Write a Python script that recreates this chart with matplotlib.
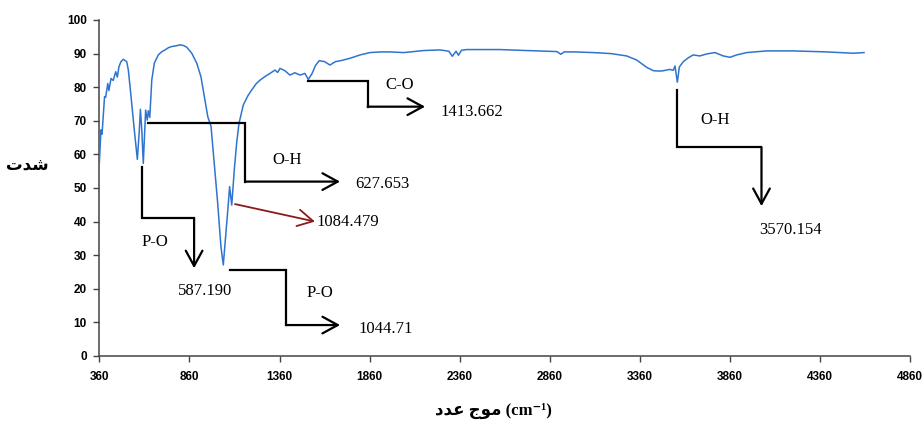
"""
FTIR spectrum with band assignments (P-O, O-H, C-O) and leader arrows.
Writes out.png
"""
import matplotlib
matplotlib.use("Agg")
import matplotlib.pyplot as plt

# spectrum (wavenumber in cm^-1, intensity in %)
wavenumber = [
    360, 369, 375, 389, 395, 407, 413, 425, 437, 451,
    460, 469, 480, 493, 512, 521, 536, 554, 571, 582,
    588, 596, 604, 617, 626, 632, 640, 651, 665, 687,
    705, 725, 745, 762, 785, 808, 828, 845, 873, 901,
    924, 943, 962, 980, 998, 1017, 1035, 1048, 1061, 1076,
    1083, 1095, 1109, 1122, 1135, 1159, 1185, 1206, 1230, 1252,
    1280, 1307, 1335, 1350, 1363, 1390, 1418, 1445, 1474, 1501,
    1520, 1540, 1560, 1581, 1610, 1640, 1670, 1700, 1751, 1807,
    1862, 1920, 1973, 2050, 2158, 2251, 2300, 2319, 2340, 2353,
    2370, 2400, 2446, 2584, 2682, 2800, 2900, 2921, 2940, 3000,
    3102, 3200, 3287, 3342, 3398, 3435, 3470, 3490, 3527, 3545,
    3555, 3568, 3579, 3601, 3630, 3656, 3693, 3731, 3777, 3823,
    3860, 3897, 3953, 4064, 4212, 4397, 4545, 4604,
]
intensity = [
    57.3, 67.3, 66.0, 77.2, 77.0, 81.1, 79.0, 82.6, 82.0, 84.6,
    83.0, 86.1, 87.6, 88.3, 87.6, 85.1, 77.2, 67.3, 58.5, 67.3,
    73.4, 67.0, 57.3, 73.2, 70.2, 73.0, 71.0, 82.1, 87.1, 89.6,
    90.5, 91.1, 91.8, 92.1, 92.3, 92.6, 92.4, 91.9, 90.1, 87.1,
    83.1, 77.2, 71.2, 68.3, 57.3, 45.4, 32.5, 27.1, 35.5, 45.4,
    50.4, 44.9, 55.4, 63.3, 69.2, 74.7, 77.5, 79.2, 81.0, 82.1,
    83.2, 84.1, 85.1, 84.4, 85.6, 84.9, 83.6, 84.3, 83.6, 84.1,
    82.3, 84.0, 86.5, 87.9, 87.6, 86.6, 87.6, 87.9, 88.6, 89.6,
    90.3, 90.5, 90.5, 90.3, 90.9, 91.1, 90.7, 89.2, 90.7, 89.5,
    91.0, 91.2, 91.2, 91.2, 91.0, 90.8, 90.6, 89.8, 90.5, 90.5,
    90.3, 90.0, 89.3, 88.1, 85.9, 84.9, 84.8, 84.9, 85.3, 85.0,
    86.3, 81.5, 86.0, 87.6, 88.8, 89.6, 89.3, 89.9, 90.3, 89.3,
    88.9, 89.6, 90.3, 90.8, 90.8, 90.5, 90.1, 90.3,
]

x_ticks = [360, 860, 1360, 1860, 2360, 2860, 3360, 3860, 4360, 4860]
y_ticks = [0, 10, 20, 30, 40, 50, 60, 70, 80, 90, 100]

band_names = ["C-O", "O-H", "P-O", "P-O", "O-H"]
band_peaks = ["1413.662", "627.653", "587.190", "1044.71", "3570.154"]
red_peak = "1084.479"

# leader paths for each band label (last leg carries the arrow head),
# followed by where the band name and the peak value go
callouts = [
    ([(1520, 81.7), (1849, 81.7), (1849, 74.2), (2168, 74.2)], (2025, 80.7), (2251, 72.6)),
    ([(632, 69.4), (1169, 69.4), (1169, 51.9), (1696, 51.9)], (1400, 58.3), (1779, 51.2)),
    ([(595, 56.3), (595, 41.0), (886, 41.0), (886, 26.1)], (669, 34.0), (798, 19.4)),
    ([(1085, 25.6), (1396, 25.6), (1396, 9.2), (1696, 9.2)], (1585, 18.8), (1800, 8.0)),
    ([(3565, 79.3), (3565, 62.1), (4035, 62.1), (4035, 44.6)], (3775, 70.1), (4020, 37.6)),
]

SERIF = ["Liberation Serif", "DejaVu Serif"]
ARROW = dict(arrowstyle="->,head_length=0.55,head_width=0.3", lw=1.6,
             mutation_scale=20, shrinkA=0, shrinkB=0)


def main():
    fig = plt.figure(figsize=(9.24, 4.21), dpi=100)
    ax = fig.add_axes([0.1075, 0.1545, 0.8775, 0.798])

    ax.plot(wavenumber, intensity, color="#2f74cf", lw=1.1, zorder=3)

    ax.set_xlim(360, 4860)
    ax.set_ylim(0, 100)
    ax.set_xticks(x_ticks)
    ax.set_yticks(y_ticks)
    for lab in ax.get_xticklabels() + ax.get_yticklabels():
        lab.set_fontfamily("Liberation Sans")
        lab.set_fontweight("bold")
        lab.set_fontsize(8.5)
    ax.tick_params(direction="out", length=4, width=1, color="#444444", pad=5)
    ax.tick_params(axis="x", pad=7)
    for side in ("top", "right"):
        ax.spines[side].set_visible(False)
    for side in ("left", "bottom"):
        ax.spines[side].set_color("#444444")
        ax.spines[side].set_linewidth(1.1)

    for (path, name_pos, peak_pos), name, peak in zip(callouts, band_names, band_peaks):
        xs = [p[0] for p in path]
        ys = [p[1] for p in path]
        ax.plot(xs[:-1], ys[:-1], color="black", lw=1.6, solid_joinstyle="miter", zorder=4)
        ax.annotate("", xy=path[-1], xytext=path[-2],
                    arrowprops=dict(ARROW, color="black"), zorder=4)
        ax.text(*name_pos, name, family=SERIF, fontsize=12, ha="center", va="center")
        ax.text(*peak_pos, peak, family=SERIF, fontsize=12, ha="left", va="center")

    # shoulder on the main phosphate band
    ax.annotate("", xy=(1557, 40.0), xytext=(1113, 45.2),
                arrowprops=dict(ARROW, color="#8b1a1a", lw=1.3))
    ax.text(1566, 40.0, red_peak, family=SERIF, fontsize=12, ha="left", va="center")

    # Persian axis titles, glyphs given in display order
    fig.text(0.030, 0.608, "\uFE95\uFEAA\uFEB7", family=["DejaVu Sans"],
             fontsize=12, fontweight="bold", ha="center", va="center")
    fig.text(0.534, 0.025, "\uFEA9\uFEAA\uFECB \uFE9D\uFEEE\uFEE3 (cm\u207b\u00b9)",
             family=["Liberation Serif", "DejaVu Sans"], fontsize=12,
             fontweight="bold", ha="center", va="center")

    fig.savefig("out.png", dpi=100)
    plt.close(fig)


if __name__ == "__main__":
    main()
